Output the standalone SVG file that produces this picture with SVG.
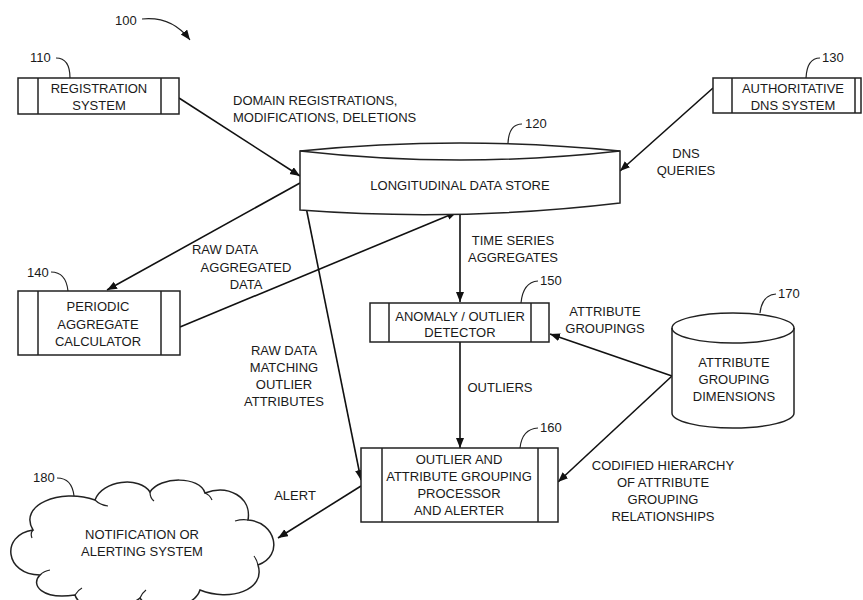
<svg xmlns="http://www.w3.org/2000/svg" width="863" height="600" viewBox="0 0 863 600">
<style>
text{font-family:"Liberation Sans",Arial,sans-serif;font-size:13px;fill:#1a1a1a}
.c{text-anchor:middle}
.box{fill:#fff;stroke:#222;stroke-width:1.5}
.div{stroke:#222;stroke-width:1.5;fill:none}
.shape{fill:#fff;stroke:#222;stroke-width:1.5}
.con{stroke:#111;stroke-width:1.6;fill:none;marker-end:url(#ah)}
.lead{stroke:#222;stroke-width:1.2;fill:none}
</style>
<defs>
<marker id="ah" markerUnits="userSpaceOnUse" markerWidth="11" markerHeight="9" refX="10" refY="4" orient="auto">
<path d="M0,0 L10,4 L0,8 Z" fill="#111"/>
</marker>
</defs>
<rect width="863" height="600" fill="#fff"/>

<g id="fig-label">
<text x="115" y="25">100</text>
<path class="lead" d="M142,19 Q172,16 190,40" marker-end="url(#ah)"/>
</g>

<g id="connectors">
<line class="con" x1="179" y1="98" x2="300" y2="176"/>
<line class="con" x1="713" y1="88" x2="620" y2="171"/>
<line class="con" x1="300" y1="183" x2="107" y2="290"/>
<line class="con" x1="180" y1="327" x2="457" y2="212"/>
<line class="con" x1="460" y1="214" x2="460" y2="302"/>
<line class="con" x1="306" y1="207" x2="361" y2="480"/>
<line class="con" x1="460" y1="342" x2="460" y2="448"/>
<line class="con" x1="672" y1="376" x2="550" y2="334"/>
<line class="con" x1="672" y1="376" x2="558" y2="482"/>
<line class="con" x1="361" y1="486" x2="278" y2="538"/>
<text x="233" y="105">DOMAIN REGISTRATIONS,</text>
<text x="233" y="122">MODIFICATIONS, DELETIONS</text>
<text class="c" x="686" y="158">DNS</text>
<text class="c" x="686" y="175">QUERIES</text>
<text class="c" x="225" y="254">RAW DATA</text>
<text class="c" x="246" y="272">AGGREGATED</text>
<text class="c" x="246" y="289">DATA</text>
<text class="c" x="513" y="245">TIME SERIES</text>
<text class="c" x="513" y="262">AGGREGATES</text>
<text class="c" x="605" y="316">ATTRIBUTE</text>
<text class="c" x="605" y="333">GROUPINGS</text>
<text class="c" x="284" y="355">RAW DATA</text>
<text class="c" x="284" y="372">MATCHING</text>
<text class="c" x="284" y="389">OUTLIER</text>
<text class="c" x="284" y="406">ATTRIBUTES</text>
<text class="c" x="500" y="392">OUTLIERS</text>
<text class="c" x="663" y="470">CODIFIED HIERARCHY</text>
<text class="c" x="663" y="487">OF ATTRIBUTE</text>
<text class="c" x="663" y="504">GROUPING</text>
<text class="c" x="663" y="521">RELATIONSHIPS</text>
<text class="c" x="295" y="500">ALERT</text>
</g>

<g id="n110">
<rect class="box" x="18" y="78" width="161" height="36"/>
<line class="div" x1="38" y1="78" x2="38" y2="114"/>
<line class="div" x1="161" y1="78" x2="161" y2="114"/>
<text class="c" x="99" y="93">REGISTRATION</text>
<text class="c" x="99" y="110">SYSTEM</text>
<text x="30" y="62">110</text>
<path class="lead" d="M56,58 Q70,58 70,78"/>
</g>

<g id="n120">
<path class="shape" d="M300,151 Q460,135 620,151 L620,203 Q460,222 300,210 Z"/>
<path class="div" d="M300,151 Q460,169 620,151"/>
<text class="c" x="460" y="190">LONGITUDINAL DATA STORE</text>
<text x="525" y="128">120</text>
<path class="lead" d="M522,124 Q509,124 508,143"/>
</g>

<g id="n130">
<rect class="box" x="713" y="78" width="148" height="35"/>
<line class="div" x1="732" y1="78" x2="732" y2="113"/>
<line class="div" x1="855" y1="78" x2="855" y2="113"/>
<text class="c" x="793" y="93">AUTHORITATIVE</text>
<text class="c" x="793" y="110">DNS SYSTEM</text>
<text x="822" y="62">130</text>
<path class="lead" d="M820,58 Q807,58 806,78"/>
</g>

<g id="n140">
<rect class="box" x="18" y="291" width="162" height="64"/>
<line class="div" x1="38" y1="291" x2="38" y2="355"/>
<line class="div" x1="161" y1="291" x2="161" y2="355"/>
<text class="c" x="98" y="311">PERIODIC</text>
<text class="c" x="98" y="329">AGGREGATE</text>
<text class="c" x="98" y="346">CALCULATOR</text>
<text x="27" y="277">140</text>
<path class="lead" d="M51,272 Q66,272 68,291"/>
</g>

<g id="n150">
<rect class="box" x="370" y="303" width="179" height="39"/>
<line class="div" x1="389" y1="303" x2="389" y2="342"/>
<line class="div" x1="531" y1="303" x2="531" y2="342"/>
<text class="c" x="460" y="321">ANOMALY / OUTLIER</text>
<text class="c" x="460" y="337">DETECTOR</text>
<text x="540" y="285">150</text>
<path class="lead" d="M538,281 Q523,282 521,303"/>
</g>

<g id="n160">
<rect class="box" x="361" y="448" width="197" height="74"/>
<line class="div" x1="382" y1="448" x2="382" y2="522"/>
<line class="div" x1="538" y1="448" x2="538" y2="522"/>
<text class="c" x="459" y="464">OUTLIER AND</text>
<text class="c" x="459" y="481">ATTRIBUTE GROUPING</text>
<text class="c" x="459" y="498">PROCESSOR</text>
<text class="c" x="459" y="515">AND ALERTER</text>
<text x="540" y="432">160</text>
<path class="lead" d="M538,428 Q522,429 520,448"/>
</g>

<g id="n170">
<path class="shape" d="M672,328 A61,15 0 0 1 794,328 L794,413 A61,15 0 0 1 672,413 Z"/>
<path class="div" d="M672,328 A61,15 0 0 0 794,328"/>
<text class="c" x="734" y="367">ATTRIBUTE</text>
<text class="c" x="734" y="384">GROUPING</text>
<text class="c" x="734" y="401">DIMENSIONS</text>
<text x="778" y="298">170</text>
<path class="lead" d="M776,294 Q762,295 760,313"/>
</g>

<g id="n180">
<path class="shape" d="M33,530 C18,505 60,488 95,500 C102,480 140,476 150,492 C160,476 200,476 205,493 C228,484 252,497 248,520 C276,522 284,556 258,565 C266,590 230,602 200,590 C194,610 150,614 140,598 C120,614 80,612 75,595 C42,600 30,585 40,575 C5,575 0,535 33,530 Z"/>
<path class="lead" d="M95,500 Q100,505 108,506 M150,492 Q150,498 154,501 M205,493 Q210,495 212,500 M248,520 Q242,519 235,521 M258,565 Q257,560 254,556 M140,598 Q142,593 146,590 M75,595 Q78,590 82,588 M40,575 Q44,571 50,570 M33,530 Q30,533 32,538"/>
<text class="c" x="142" y="539">NOTIFICATION OR</text>
<text class="c" x="142" y="556">ALERTING SYSTEM</text>
<text x="33" y="482">180</text>
<path class="lead" d="M57,478 Q72,478 74,496"/>
</g>
</svg>
